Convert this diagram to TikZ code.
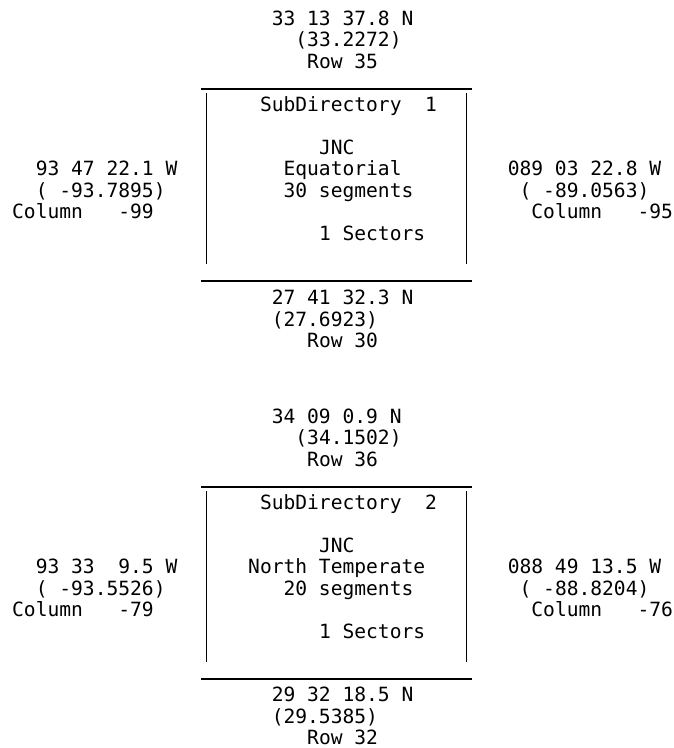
\documentclass[tikz,border=0pt]{standalone}
\usepackage{fontspec}
\setmonofont{DejaVu Sans Mono}

\begin{document}
\begin{tikzpicture}[x=1pt,y=-1pt,
  lbl/.style={anchor=base west,inner sep=0pt,align=left,font=\ttfamily\fontsize{19.6}{21.5}\selectfont},
  rule/.style={line width=2pt},
  bar/.style={line width=1.3pt}]
\useasboundingbox (0,0) rectangle (673,748);
% subdirectory 1 (base anchor = last line)
\node[lbl] (n1) at (271.6,68.2) {33 13 37.8 N\\~~(33.2272)\\~~~Row 35};
\draw[rule] (200.8,88.5) -- (472.2,88.5);
\node[lbl] (d1) at (259.8,240.2) {SubDirectory~~1\\~\\~~~~~JNC\\~~Equatorial\\~~30 segments\\~\\~~~~~1 Sectors};
\node[lbl] (w1) at (12,218.7) {~~93 47 22.1 W\\~~( -93.7895)\\Column~~~-99};
\node[lbl] (e1) at (507.6,218.7) {089 03 22.8 W\\~( -89.0563)\\~~Column~~~-95};
\draw[bar] (206.7,93) -- (206.7,264);
\draw[bar] (466.3,93) -- (466.3,264);
\draw[rule] (200.8,281) -- (472.2,281);
\node[lbl] (s1) at (271.6,347.7) {27 41 32.3 N\\(27.6923)\\~~~Row 30};
% subdirectory 2
\node[lbl] (n2) at (271.6,466.2) {34 09 0.9 N\\~~(34.1502)\\~~~Row 36};
\draw[rule] (200.8,486.5) -- (472.2,486.5);
\node[lbl] (d2) at (248,638.2) {~SubDirectory~~2\\~\\~~~~~~JNC\\North Temperate\\~~~20 segments\\~\\~~~~~~1 Sectors};
\node[lbl] (w2) at (12,616.7) {~~93 33~~9.5 W\\~~( -93.5526)\\Column~~~-79};
\node[lbl] (e2) at (507.6,616.7) {088 49 13.5 W\\~( -88.8204)\\~~Column~~~-76};
\draw[bar] (206.7,491) -- (206.7,662);
\draw[bar] (466.3,491) -- (466.3,662);
\draw[rule] (200.8,679) -- (472.2,679);
\node[lbl] (s2) at (271.6,744.5) {29 32 18.5 N\\(29.5385)\\~~~Row 32};
\end{tikzpicture}
\end{document}
